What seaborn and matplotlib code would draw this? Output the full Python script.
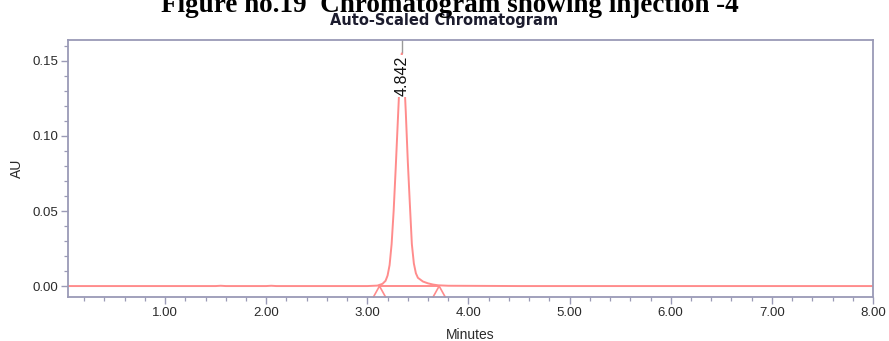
import matplotlib
matplotlib.use("Agg")
import matplotlib.pyplot as plt
from matplotlib.ticker import MultipleLocator, FormatStrFormatter
import seaborn as sns
import pandas as pd

# Detector trace (minutes, absorbance units)
time_min = [0.04, 1.00, 1.50, 1.55, 1.60, 2.00, 2.05, 2.10, 3.00, 3.10, 3.15,
            3.18, 3.20, 3.22, 3.24, 3.26, 3.28, 3.30, 3.32, 3.34, 3.36, 3.38,
            3.40, 3.42, 3.44, 3.46, 3.48, 3.50, 3.55, 3.60, 3.65, 3.70, 3.80,
            4.50, 6.00, 7.00, 8.00]
absorbance = [0.0, 0.0, 0.0, 0.0002, 0.0, 0.0, 0.0002, 0.0, 0.0, 0.0003, 0.0015,
              0.0035, 0.0070, 0.0140, 0.0280, 0.0500, 0.0780, 0.1080, 0.1380, 0.1550,
              0.1450, 0.1160, 0.0830, 0.0550, 0.0280, 0.0150, 0.0085, 0.0055, 0.0030,
              0.0018, 0.0010, 0.0005, 0.0002, 0.0, 0.0, 0.0, 0.0]

# Integration events and peak annotation
peak_start = 3.12
peak_end = 3.71
peak_rt = 3.34
peak_label = "4.842"

x_ticks = [1.0, 2.0, 3.0, 4.0, 5.0, 6.0, 7.0, 8.0]
y_ticks = [0.00, 0.05, 0.10, 0.15]

trace = pd.DataFrame({"Minutes": time_min, "AU": absorbance})

sns.set_theme(style="white")
plt.rcParams["font.family"] = ["Liberation Sans", "DejaVu Sans"]

line_color = "#ff8c8c"
frame_color = "#9a9ab6"
text_color = "#2a2a2a"

fig = plt.figure(figsize=(8.89, 3.41), dpi=100)
ax = fig.add_axes([0.0765, 0.129, 0.9055, 0.754])

sns.lineplot(data=trace, x="Minutes", y="AU", ax=ax, color=line_color,
             linewidth=1.4, estimator=None, sort=False)

ymin, ymax = -0.0073, 0.164
ax.set_xlim(0.04, 8.0)
ax.set_ylim(ymin, ymax)

# baseline drawn under the peak
ax.plot([peak_start, peak_end], [0, 0], color=line_color, linewidth=1.4)

# start / end markers of the integrated peak
half_w = 0.06
for t in (peak_start, peak_end):
    ax.plot([t - half_w, t, t + half_w], [ymin, 0, ymin], color=line_color,
            linewidth=1.2, clip_on=False)

# retention time label on the peak apex
ax.text(peak_rt, 0.1265, peak_label, rotation=90, ha="center", va="bottom",
        fontsize=11.5, color="#111111",
        bbox=dict(boxstyle="square,pad=0.05", facecolor="white", edgecolor="none"))
ax.plot([peak_rt, peak_rt], [0.1555, ymax], color="#999999", linewidth=1.0,
        zorder=1)

ax.set_xticks(x_ticks)
ax.set_yticks(y_ticks)
ax.xaxis.set_minor_locator(MultipleLocator(0.2))
ax.yaxis.set_minor_locator(MultipleLocator(0.01))
ax.xaxis.set_major_formatter(FormatStrFormatter("%.2f"))
ax.yaxis.set_major_formatter(FormatStrFormatter("%.2f"))

ax.tick_params(axis="both", which="major", direction="out", length=5, width=1.0,
               color=frame_color, labelsize=9.5, labelcolor=text_color, pad=2,
               bottom=True, left=True)
ax.tick_params(axis="both", which="minor", direction="out", length=3, width=0.9,
               color=frame_color, bottom=True, left=True)

for side in ax.spines.values():
    side.set_visible(True)
    side.set_color(frame_color)
    side.set_linewidth(1.3)

ax.set_xlabel("Minutes", fontsize=10, color=text_color, labelpad=7)
ax.set_ylabel("AU", fontsize=10, color=text_color, labelpad=6)

fig.text(0.5, 0.941, "Auto-Scaled Chromatogram", ha="center", va="center",
         fontsize=10.5, fontweight="bold", family=["DejaVu Sans"],
         color="#1c1c2e")
fig.text(0.506, 0.966, "Figure no.19  Chromatogram showing injection -4",
         ha="center", va="baseline", fontsize=19.5, fontweight="bold",
         family=["Liberation Serif", "DejaVu Serif"], color="black")

fig.savefig("out.png", dpi=100, facecolor="white")
